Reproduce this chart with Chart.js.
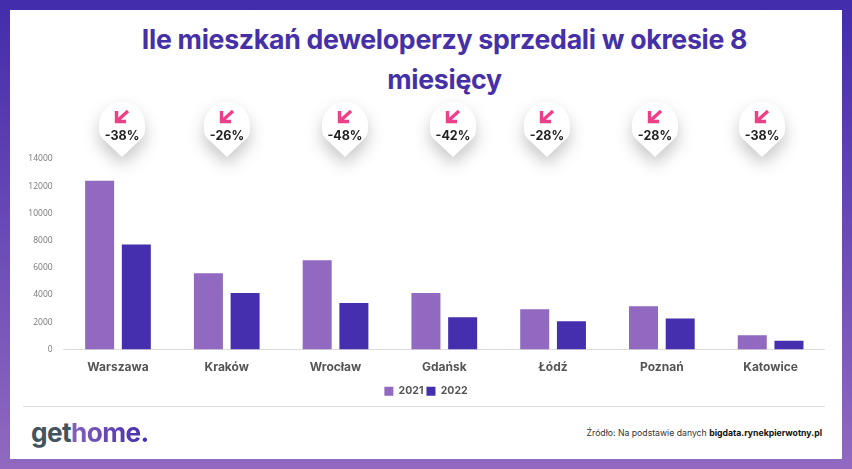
<!DOCTYPE html>
<html lang="pl">
<head>
<meta charset="utf-8">
<title>Ile mieszkań deweloperzy sprzedali</title>
<script src="https://cdn.jsdelivr.net/npm/chart.js@4"></script>
<style>
  html, body { margin: 0; padding: 0; }
  body { width: 852px; height: 469px; overflow: hidden; position: relative; background: linear-gradient(180deg, #432cab 0%, #9169c0 100%); }
  #karta { position: absolute; left: 10px; top: 10px; width: 832px; height: 449px; background: #fff; }
  #tytul { position: absolute; left: 0; top: 19px; width: 889px; text-align: center; font: 700 26.7px/40px Inter, sans-serif; color: #4530a8; letter-spacing: -0.3px; }
  #wykres { position: absolute; left: 27px; top: 140px; width: 798px; height: 270px; }
  .pin { position: absolute; top: 102px; width: 46px; height: 55px; margin-left: -23px; filter: drop-shadow(0 8px 8px rgba(0,0,0,.22)); }
  .pin .ksztalt { position: absolute; inset: 0; background: #fff; clip-path: path("M23 0 A23 23 0 0 1 46 23 L46 28 Q46 33 42 37 L23 55 L4 37 Q0 33 0 28 L0 23 A23 23 0 0 1 23 0 Z"); }
  .pin svg { position: absolute; left: 15px; top: 7px; }
  .pin span { position: absolute; left: -7px; width: 60px; top: 26px; text-align: center; font: 700 12.5px/16px Inter, sans-serif; color: #222; }
  #linia { position: absolute; left: 23px; top: 406px; width: 802px; height: 1px; background: #ddd; }
  #logo { position: absolute; left: 31px; top: 415px; font: 700 26.2px/36px Inter, sans-serif; color: #42555f; letter-spacing: -0.6px; }
  #logo b { font-weight: 700; background: linear-gradient(90deg, #8360bb, #432cab); -webkit-background-clip: text; background-clip: text; color: transparent; }
  #zrodlo { position: absolute; right: 30px; top: 426px; font: 400 8.7px/14px Inter, sans-serif; color: #333; }
  #zrodlo b { color: #111; }
</style>
</head>
<body>
<div id="karta"></div>
<div id="tytul">Ile mieszkań deweloperzy sprzedali w okresie 8<br>miesięcy</div>
<div id="wykres"><canvas id="wykres-canvas" width="798" height="270"></canvas></div>
<div id="linia"></div>
<div id="logo">get<b>home.</b></div>
<div id="zrodlo">Źródło: Na podstawie danych <b>bigdata.rynekpierwotny.pl</b></div>
<script>
const miasta = ["Warszawa", "Kraków", "Wrocław", "Gdańsk", "Łódź", "Poznań", "Katowice"];
const sprzedaz2021 = [12400, 5600, 6550, 4150, 2950, 3170, 1050];
const sprzedaz2022 = [7720, 4150, 3420, 2370, 2080, 2280, 650];
const zmiany = ["-38%", "-26%", "-48%", "-42%", "-28%", "-28%", "-38%"];
const pinyX = [122, 227, 345, 453, 547, 655, 762];

zmiany.forEach((z, i) => {
  const pin = document.createElement("div");
  pin.className = "pin";
  pin.style.left = pinyX[i] + "px";
  pin.innerHTML = `
    <div class="ksztalt"></div>
    <svg width="16" height="15" viewBox="0 0 16 15"><path d="M2.5 2v10.5H12M3 12L14 2" fill="none" stroke="#ee4088" stroke-width="3.4"/></svg>
    <span>${z}</span>
  `;
  document.body.appendChild(pin);
});

new Chart(document.getElementById("wykres-canvas"), {
  type: "bar",
  data: {
    labels: miasta,
    datasets: [
      { label: "2021", data: sprzedaz2021, backgroundColor: "#9169c0" },
      { label: "2022", data: sprzedaz2022, backgroundColor: "#452fae" }
    ]
  },
  options: {
    responsive: false,
    animation: false,
    datasets: { bar: { categoryPercentage: 0.675, barPercentage: 0.79 } },
    layout: { padding: { top: 19, right: 0, bottom: 3.5, left: 0 } },
    plugins: {
      tooltip: { enabled: false },
      legend: {
        position: "bottom",
        labels: { boxWidth: 9, boxHeight: 9, padding: 3, color: "#555", font: { family: "Inter", size: 10.5, weight: "700" } }
      }
    },
    scales: {
      x: {
        afterFit: (s) => { s.height = 33.5; },
        grid: { display: false },
        border: { color: "#ddd" },
        ticks: { color: "#555", padding: 3, font: { family: "Inter", size: 12, weight: "700" } }
      },
      y: {
        min: 0,
        max: 14000,
        afterFit: (s) => { s.width = 36.6; },
        grid: { display: false },
        border: { display: false },
        ticks: { stepSize: 2000, color: "#777", format: { useGrouping: false }, font: { family: "Open Sans", size: 8.5 } }
      }
    }
  }
});
</script>
</body>
</html>
